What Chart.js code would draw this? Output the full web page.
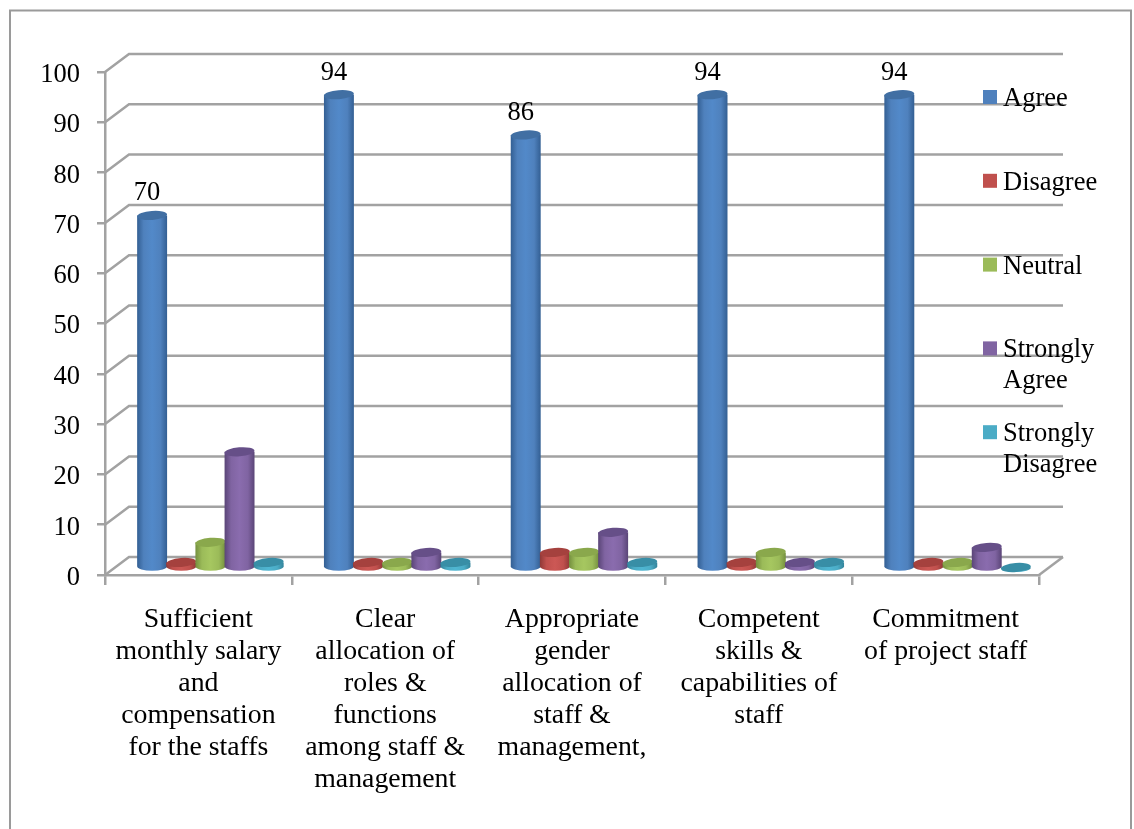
<!DOCTYPE html>
<html>
<head>
<meta charset="utf-8">
<style>
  html, body { margin: 0; padding: 0; background: #fff; }
  canvas { display: block; }
</style>
<script src="https://cdn.jsdelivr.net/npm/chart.js@4"></script>
</head>
<body>
<canvas id="survey" width="1134" height="829"></canvas>
<script>
// Survey responses (%) for each staffing statement
const categories = [
  ["Sufficient", "monthly salary", "and", "compensation", "for the staffs"],
  ["Clear", "allocation of", "roles &", "functions", "among staff &", "management"],
  ["Appropriate", "gender", "allocation of", "staff &", "management,"],
  ["Competent", "skills &", "capabilities of", "staff"],
  ["Commitment", "of project staff"]
];
const seriesNames = ["Agree", "Disagree", "Neutral", "Strongly Agree", "Strongly Disagree"];
const agree = [70, 94, 86, 94, 94];
const disagree = [1, 1, 3, 1, 1];
const neutral = [5, 1, 3, 3, 1];
const stronglyAgree = [23, 3, 7, 1, 4];
const stronglyDisagree = [1, 1, 1, 1, 0];
const baseColors = ["#4f81bd", "#c0504d", "#9bbb59", "#8064a2", "#4bacc6"];
const lightColors = ["#5289c9", "#cc5855", "#a6c760", "#8a6cae", "#4fb6d2"];
const edgeColors = ["#335f93", "#8f3836", "#748f3e", "#5a4577", "#33839a"];
const capColors = ["#416fa3", "#a5413e", "#8aa84c", "#664f88", "#388ea6"];

const FONT = '"Liberation Serif", "Times New Roman", serif';
const TEXT_SIZE = 26.5;
const CATEGORY_SIZE = 27.8;
const AXIS_GRAY = "#a2a2a2";
const DEPTH_X = 24, DEPTH_Y = -18;   // offset of the back wall from the front axes
const BAR_DX = 12, BAR_DY = -7.5;    // bars stand partway along the floor
const CAP_RY = 4.5;
const CAP_TILT = -0.08;

// Back wall grid, floor edges and the outer frame
function drawWalls(chart) {
  const { ctx, chartArea: a, scales: { y } } = chart;
  ctx.save();
  ctx.strokeStyle = "#9a9a9a";
  ctx.lineWidth = 2;
  ctx.strokeRect(10, 10.5, 1121, 840);
  ctx.strokeStyle = AXIS_GRAY;
  ctx.lineWidth = 2.5;
  y.ticks.forEach(t => {
    const py = y.getPixelForValue(t.value);
    ctx.beginPath();
    ctx.moveTo(a.left, py);
    ctx.lineTo(a.left + DEPTH_X, py + DEPTH_Y);
    ctx.lineTo(a.right + DEPTH_X, py + DEPTH_Y);
    ctx.stroke();
  });
  const floor = y.getPixelForValue(0);
  ctx.beginPath();
  ctx.moveTo(a.right, floor);
  ctx.lineTo(a.right + DEPTH_X, floor + DEPTH_Y);
  ctx.stroke();
  ctx.restore();
}

// One shaded cylinder standing on a bar's base
function drawCylinder(ctx, bar, i) {
  const rx = bar.width / 2 + 0.4;
  const left = bar.x - rx, right = bar.x + rx;
  const shade = ctx.createLinearGradient(left, 0, right, 0);
  shade.addColorStop(0, edgeColors[i]);
  shade.addColorStop(0.22, baseColors[i]);
  shade.addColorStop(0.5, lightColors[i]);
  shade.addColorStop(0.78, baseColors[i]);
  shade.addColorStop(1, edgeColors[i]);
  ctx.fillStyle = shade;
  ctx.beginPath();
  ctx.moveTo(left, bar.y);
  ctx.lineTo(left, bar.base);
  ctx.ellipse(bar.x, bar.base, rx, CAP_RY, 0, Math.PI, 0, true);
  ctx.lineTo(right, bar.y);
  ctx.closePath();
  ctx.fill();
  ctx.fillStyle = capColors[i];
  ctx.beginPath();
  ctx.ellipse(bar.x, bar.y, rx, CAP_RY, CAP_TILT, 0, Math.PI * 2);
  ctx.fill();
}

const cylinders = {
  id: "cylinders",
  beforeDraw: drawWalls,
  beforeDatasetsDraw(chart) {
    const ctx = chart.ctx;
    ctx.save();
    ctx.translate(BAR_DX, BAR_DY);
    chart.data.datasets.forEach((ds, i) => {
      chart.getDatasetMeta(i).data.forEach(bar => drawCylinder(ctx, bar, i));
    });
    // Value labels sit above the Agree columns only
    ctx.fillStyle = "#000";
    ctx.font = TEXT_SIZE + "px " + FONT;
    ctx.textAlign = "center";
    ctx.textBaseline = "middle";
    chart.getDatasetMeta(0).data.forEach((bar, k) => {
      ctx.fillText(String(agree[k]), bar.x - 5, bar.y - 22);
    });
    ctx.restore();
    return false;
  }
};

// Right-hand legend with wrapped two-word names
const legendColumn = {
  id: "legendColumn",
  afterDraw(chart) {
    const ctx = chart.ctx;
    ctx.save();
    ctx.font = TEXT_SIZE + "px " + FONT;
    ctx.textBaseline = "middle";
    ctx.textAlign = "left";
    seriesNames.forEach((name, i) => {
      const top = 90 + i * 83.8;
      ctx.fillStyle = baseColors[i];
      ctx.fillRect(983, top, 14, 14);
      ctx.fillStyle = "#000";
      name.split(" ").forEach((word, l) => {
        ctx.fillText(word, 1003, top + 9 + l * 31);
      });
    });
    ctx.restore();
  }
};

const values = [agree, disagree, neutral, stronglyAgree, stronglyDisagree];

new Chart(document.getElementById("survey"), {
  type: "bar",
  data: {
    labels: categories,
    datasets: seriesNames.map((name, i) => ({
      label: name,
      data: values[i],
      backgroundColor: baseColors[i],
      barPercentage: 1,
      categoryPercentage: 0.78
    }))
  },
  options: {
    responsive: false,
    animation: false,
    layout: { padding: { top: 72, right: 95, left: 0, bottom: 0 } },
    plugins: { legend: { display: false }, tooltip: { enabled: false } },
    scales: {
      x: {
        afterFit(s) { s.height = 254; },
        grid: { drawOnChartArea: false, drawTicks: true, tickLength: 10, color: AXIS_GRAY, lineWidth: 2.5 },
        border: { color: AXIS_GRAY, width: 2.5 },
        ticks: {
          autoSkip: false, maxRotation: 0, minRotation: 0, padding: 19, color: "#000",
          font: { family: FONT, size: CATEGORY_SIZE, lineHeight: "32px" }
        }
      },
      y: {
        min: 0, max: 100,
        afterFit(s) { s.width = 105; },
        grid: { drawOnChartArea: false, drawTicks: true, tickLength: 8, color: AXIS_GRAY, lineWidth: 2.5 },
        border: { color: AXIS_GRAY, width: 2.5 },
        ticks: {
          stepSize: 10, padding: 17, color: "#000", labelOffset: 3,
          font: { family: FONT, size: TEXT_SIZE }
        }
      }
    }
  },
  plugins: [cylinders, legendColumn]
});
</script>
</body>
</html>
